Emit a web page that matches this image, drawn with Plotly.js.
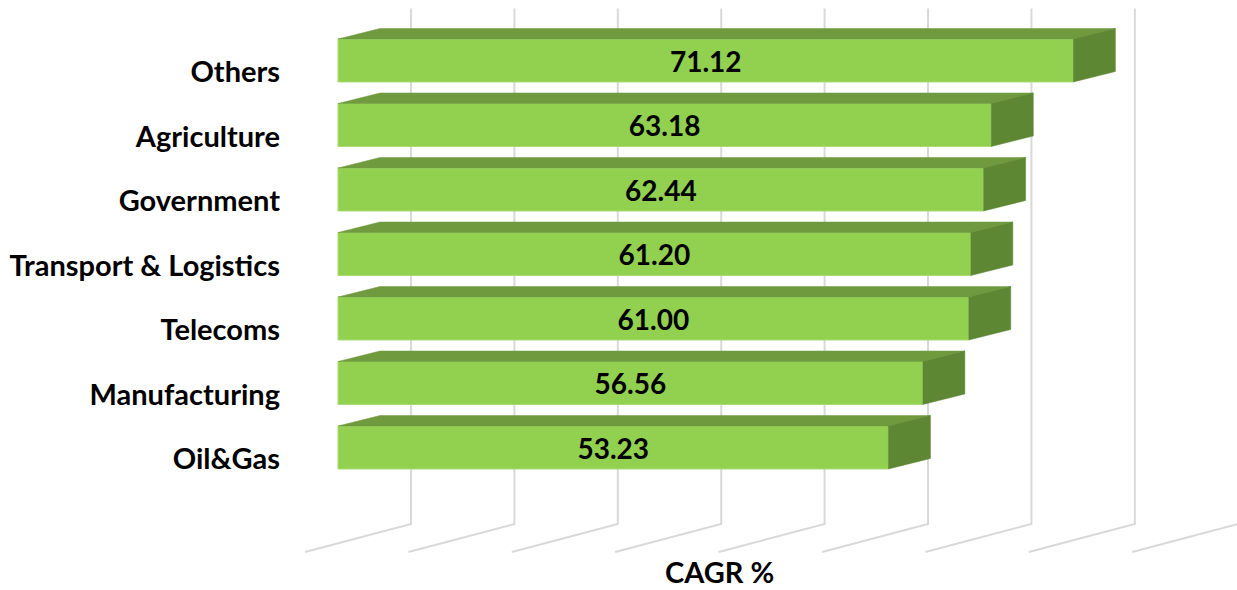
<!DOCTYPE html>
<html>
<head>
<meta charset="utf-8">
<script src="https://cdn.plot.ly/plotly-3.0.1.min.js"></script>
<style>
  html, body { margin: 0; padding: 0; background: #ffffff; }
  #chart { width: 1237px; height: 590px; }
</style>
</head>
<body>
<div id="chart"></div>
<script>
// ---- data ----
const categories = ['Others', 'Agriculture', 'Government', 'Transport & Logistics', 'Telecoms', 'Manufacturing', 'Oil&Gas'];
const cagr = [71.12, 63.18, 62.44, 61.20, 61.00, 56.56, 53.23];
const gridValues = [0, 10, 20, 30, 40, 50, 60, 70, 80];
const axisTitle = 'CAGR %';

// ---- 3D styling constants (axis units) ----
const BAR_HALF = 0.333;     // half of bar front height
const BAR_DX = 4.06;        // bar depth shift along value axis
const BAR_DY = 0.163;       // bar depth shift upward (rows)
const WALL_DX = 7.06;       // back wall offset from bar front
const WALL_DY = 0.30;
const FLOOR_DX = 10.25;     // full floor depth
const FLOOR_DY = 0.434;
const WALL_TOP = -0.806;
const WALL_BOTTOM = 7.186;
const LABEL_SHIFT = 0.18;

const FONT = 'Lato, "Open Sans", "DejaVu Sans", sans-serif';
const FRONT = '#92D050', TOP = '#6F9A3E', SIDE = '#5E8733', GRID = '#D9D9D9';

const rows = categories.map((_, i) => i);

// top faces & side faces as filled polygons
const topX = [], topY = [], sideX = [], sideY = [];
cagr.forEach((v, i) => {
  const yt = rows[i] - BAR_HALF, yb = rows[i] + BAR_HALF;
  topX.push(0, v, v + BAR_DX, BAR_DX, 0, null);
  topY.push(yt, yt, yt - BAR_DY, yt - BAR_DY, yt, null);
  sideX.push(v, v + BAR_DX, v + BAR_DX, v, v, null);
  sideY.push(yt, yt - BAR_DY, yb - BAR_DY, yb, yt, null);
});

// gridlines on back wall + floor
const shapes = [];
gridValues.forEach(g => {
  const wx = g + WALL_DX;
  shapes.push({
    type: 'path', xref: 'x', yref: 'y', layer: 'below',
    path: `M ${wx} ${WALL_TOP} L ${wx} ${WALL_BOTTOM} L ${wx - FLOOR_DX} ${WALL_BOTTOM + FLOOR_DY}`,
    line: { color: GRID, width: 2 }
  });
});

const traces = [
  {
    type: 'bar', orientation: 'h',
    y: rows, x: cagr, base: 0, width: 2 * BAR_HALF,
    marker: { color: FRONT, line: { color: '#A8DB72', width: 1 } },
    text: cagr.map(v => v.toFixed(2)),
    textposition: 'inside', insidetextanchor: 'middle', textangle: 0,
    constraintext: 'none',
    textfont: { family: FONT, size: 28, color: '#000000', weight: 'bold' },
    hoverinfo: 'skip', showlegend: false
  },
  {
    type: 'scatter', mode: 'lines', x: topX, y: topY, fill: 'toself',
    fillcolor: TOP, line: { color: TOP, width: 0.5 },
    hoverinfo: 'skip', showlegend: false
  },
  {
    type: 'scatter', mode: 'lines', x: sideX, y: sideY, fill: 'toself',
    fillcolor: SIDE, line: { color: SIDE, width: 0.5 },
    hoverinfo: 'skip', showlegend: false
  }
];

const layout = {
  width: 1237, height: 590,
  margin: { l: 295, r: 0, t: 0, b: 0 },
  paper_bgcolor: '#ffffff', plot_bgcolor: '#ffffff',
  showlegend: false,
  barmode: 'overlay',
  xaxis: {
    range: [-4.159, 86.94], showgrid: false, zeroline: false,
    showticklabels: false, showline: false, ticks: '', fixedrange: true
  },
  yaxis: {
    range: [8.209, -0.938], showgrid: false, zeroline: false, showline: false,
    tickmode: 'array', tickvals: rows.map(r => r + LABEL_SHIFT), ticktext: categories,
    ticks: '', ticklabelstandoff: 14,
    tickfont: { family: FONT, size: 29, color: '#000000', weight: 'bold' },
    fixedrange: true
  },
  shapes: shapes,
  annotations: [{
    text: axisTitle, xref: 'paper', yref: 'paper', x: 0.451, y: 0.0,
    xanchor: 'center', yanchor: 'bottom', showarrow: false, borderpad: 0,
    font: { family: FONT, size: 29, color: '#000000', weight: 'bold' }
  }]
};

Plotly.newPlot('chart', traces, layout, { staticPlot: true, displayModeBar: false });
</script>
</body>
</html>
